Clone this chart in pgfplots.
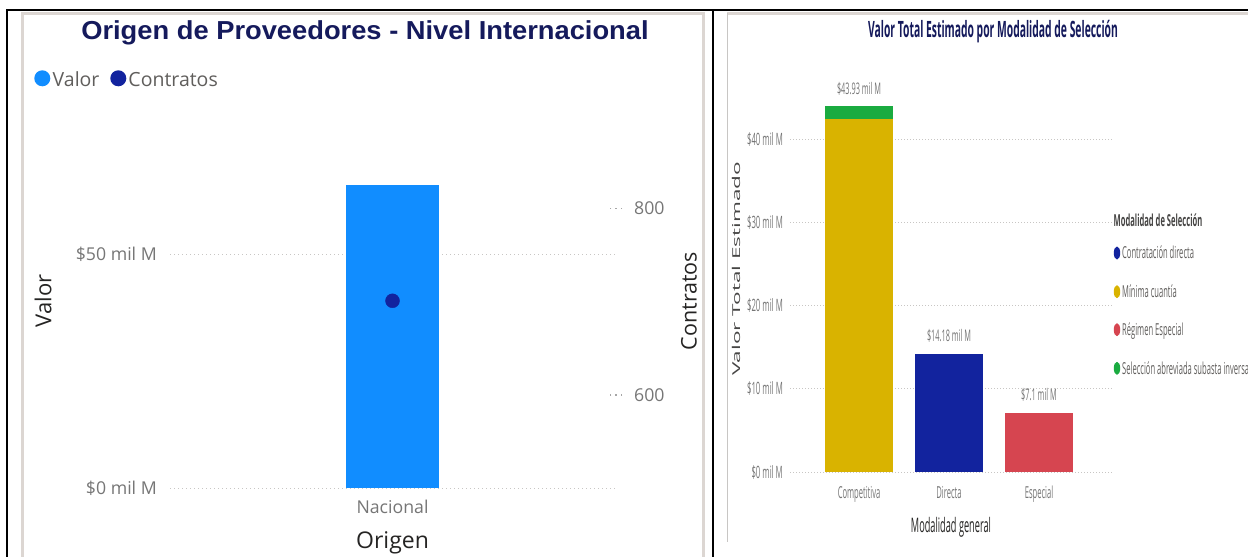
\documentclass[border=0pt]{standalone}
\usepackage{fontspec}
\setmainfont{Open Sans}
\newfontfamily\titlefont[FakeStretch=1.05]{Liberation Sans}
\newfontfamily\cond[FakeStretch=0.46]{Open Sans}
\usepackage{pgfplots}
\pgfplotsset{compat=1.18}
\definecolor{valor}{HTML}{118DFF}
\definecolor{contr}{HTML}{12239E}
\definecolor{amar}{HTML}{D9B300}
\definecolor{verde}{HTML}{1AAB40}
\definecolor{rojo}{HTML}{D64550}
\definecolor{navy}{HTML}{151A5C}
\definecolor{txtgray}{HTML}{605E5C}
\definecolor{tickgray}{HTML}{767676}
\definecolor{gridgray}{HTML}{C8C6C4}
\definecolor{dark}{HTML}{252423}
\definecolor{framec}{HTML}{DCD6D2}
\begin{document}
\begin{tikzpicture}
\path[use as bounding box, fill=white] (0,0) rectangle (1248bp,-557bp);
\begin{scope}[x=1bp,y=-1bp]
% frames
\draw[framec, line width=3bp] (22,570) -- (22,13.5) -- (703.5,13.5) -- (703.5,570);
\draw[framec, line width=3bp] (727,13.5) -- (1260,13.5);
\draw[gridgray, line width=1.2bp] (727.5,13) -- (727.5,542);
\draw[black, line width=2bp] (6,10) -- (1260,10);
\draw[black, line width=2.2bp] (7,9) -- (7,570);
\draw[black, line width=2.5bp] (713,9) -- (713,570);
% left panel texts
\node[anchor=base, inner sep=0, font=\titlefont\bfseries\fontsize{26bp}{30bp}\selectfont, text=navy] at (365,39) {Origen de Proveedores - Nivel Internacional};
\fill[valor] (42.3,78.3) circle[radius=8bp];
\fill[contr] (118.3,78.3) circle[radius=8bp];
\node[anchor=base west, inner sep=0, font=\fontsize{19.5bp}{23bp}\selectfont, text=txtgray] at (52.5,86) {Valor};
\node[anchor=base west, inner sep=0, font=\fontsize{19.5bp}{23bp}\selectfont, text=txtgray] at (128.3,86) {Contratos};
\node[rotate=90, inner sep=0, font=\fontsize{22bp}{26bp}\selectfont, text=dark] at (43,301) {Valor};
\node[rotate=90, inner sep=0, font=\fontsize{21.5bp}{26bp}\selectfont, text=dark] at (689,301) {Contratos};
\node[anchor=base, inner sep=0, font=\fontsize{23bp}{27bp}\selectfont, text=dark] at (392.5,548) {Origen};
% right panel texts
\node[anchor=base, inner sep=0, font=\cond\bfseries\fontsize{22.5bp}{26bp}\selectfont, text=navy] at (993,37.5) {Valor Total Estimado por Modalidad de Selección};
\node[rotate=90, inner sep=0, text=dark!85] at (736,269) {\scalebox{1}[0.48]{\fontsize{22.5bp}{27bp}\selectfont Valor Total Estimado}};
\node[anchor=base, inner sep=0, font=\cond\fontsize{20bp}{24bp}\selectfont, text=dark] at (951,532) {Modalidad general};
\node[anchor=base west, inner sep=0, font=\cond\bfseries\fontsize{16.5bp}{20bp}\selectfont, text=dark!85] at (1113.5,226.5) {Modalidad de Selección};
\fill[contr] (1117,253) ellipse[x radius=3.2bp, y radius=6.5bp];
\fill[amar] (1117,291.7) ellipse[x radius=3.2bp, y radius=6.5bp];
\fill[rojo] (1117,329.7) ellipse[x radius=3.2bp, y radius=6.5bp];
\fill[verde] (1117,368.3) ellipse[x radius=3.2bp, y radius=6.5bp];
\node[anchor=base west, inner sep=0, font=\cond\fontsize{16.5bp}{20bp}\selectfont, text=txtgray] at (1122,258.5) {Contratación directa};
\node[anchor=base west, inner sep=0, font=\cond\fontsize{16.5bp}{20bp}\selectfont, text=txtgray] at (1122,297.4) {Mínima cuantía};
\node[anchor=base west, inner sep=0, font=\cond\fontsize{16.5bp}{20bp}\selectfont, text=txtgray] at (1122,335.4) {Régimen Especial};
\node[anchor=base west, inner sep=0, font=\cond\fontsize{16.5bp}{20bp}\selectfont, text=txtgray] at (1122,374) {Selección abreviada subasta inversa};
\end{scope}
% ---------- left chart: Valor
\begin{axis}[
 at={(170bp,-488bp)}, anchor=south west, scale only axis,
 width=445bp, height=327.6bp,
 xmin=0, xmax=1, ymin=0, ymax=70,
 axis line style={draw=none},
 major tick length=0pt,
 xtick={0.5}, xticklabels={Nacional},
 ytick={0,50}, yticklabels={\$0 mil M,\$50 mil M},
 ymajorgrids, grid style={gridgray, line width=1bp, dash pattern=on 1bp off 3bp},
 tick label style={font=\fontsize{17.7bp}{20bp}\selectfont, text=tickgray, inner sep=0pt},
 xticklabel style={anchor=base, yshift=-25bp},
 yticklabel style={anchor=base east, xshift=-13bp, yshift=-6.3bp},
]
\addplot[ybar, bar width=93bp, bar shift=0pt, fill=valor, draw=none] coordinates {(0.5,64.7)};
\end{axis}
% ---------- left chart: Contratos
\begin{axis}[
 at={(170bp,-488bp)}, anchor=south west, scale only axis,
 width=445bp, height=327.6bp,
 xmin=0, xmax=1, ymin=500, ymax=851.7,
 axis y line*=right, axis x line=none,
 y axis line style={draw=none},
 ytick={600,800}, yticklabels={600,800},
 tick align=center, major tick length=14bp,
 ytick style={gray!70, line width=1.3bp, dash pattern=on 1.3bp off 4bp},
 yticklabel style={font=\fontsize{17.7bp}{20bp}\selectfont, text=tickgray, inner sep=0pt, anchor=base west, xshift=12bp, yshift=-6.3bp},
]
\addplot[only marks, mark=*, mark size=7bp, mark options={fill=contr, draw=contr}] coordinates {(0.5,701)};
\end{axis}
% ---------- right chart
\begin{axis}[
 at={(790bp,-472bp)}, anchor=south west, scale only axis,
 width=323bp, height=374.6bp,
 xmin=-0.767, xmax=2.822, ymin=0, ymax=45,
 ybar stacked, bar width=68bp,
 axis line style={draw=none}, major tick length=0pt,
 xtick={0,1,2}, xticklabels={Competitiva,Directa,Especial},
 ytick={0,10,20,30,40},
 yticklabels={\$0 mil M,\$10 mil M,\$20 mil M,\$30 mil M,\$40 mil M},
 ymajorgrids, grid style={gridgray, line width=0.8bp, dash pattern=on 0.8bp off 2.2bp},
 tick label style={font=\cond\fontsize{17bp}{20bp}\selectfont, text=tickgray, inner sep=0pt},
 xticklabel style={font=\cond\fontsize{16.5bp}{20bp}\selectfont, anchor=base, yshift=-26bp},
 yticklabel style={anchor=base east, xshift=-7bp, yshift=-6bp},
]
\addplot[fill=contr, draw=none] coordinates {(0,0) (1,14.18) (2,0)};
\addplot[fill=amar, draw=none] coordinates {(0,42.4) (1,0) (2,0)};
\addplot[fill=rojo, draw=none] coordinates {(0,0) (1,0) (2,7.1)};
\addplot[fill=verde, draw=none] coordinates {(0,1.53) (1,0) (2,0)};
\end{axis}
\begin{axis}[
 at={(790bp,-472bp)}, anchor=south west, scale only axis,
 width=323bp, height=374.6bp,
 xmin=-0.767, xmax=2.822, ymin=0, ymax=45,
 hide axis, clip=false,
]
\addplot[draw=none, mark=none, nodes near coords, point meta=explicit symbolic,
 nodes near coords style={font=\cond\fontsize{16bp}{19bp}\selectfont, text=tickgray, anchor=base, inner sep=0pt, yshift=12bp}]
 coordinates {(0,43.93) [\$43.93 mil M] (1,14.18) [\$14.18 mil M] (2,7.1) [\$7.1 mil M]};
\end{axis}
\end{tikzpicture}
\end{document}
